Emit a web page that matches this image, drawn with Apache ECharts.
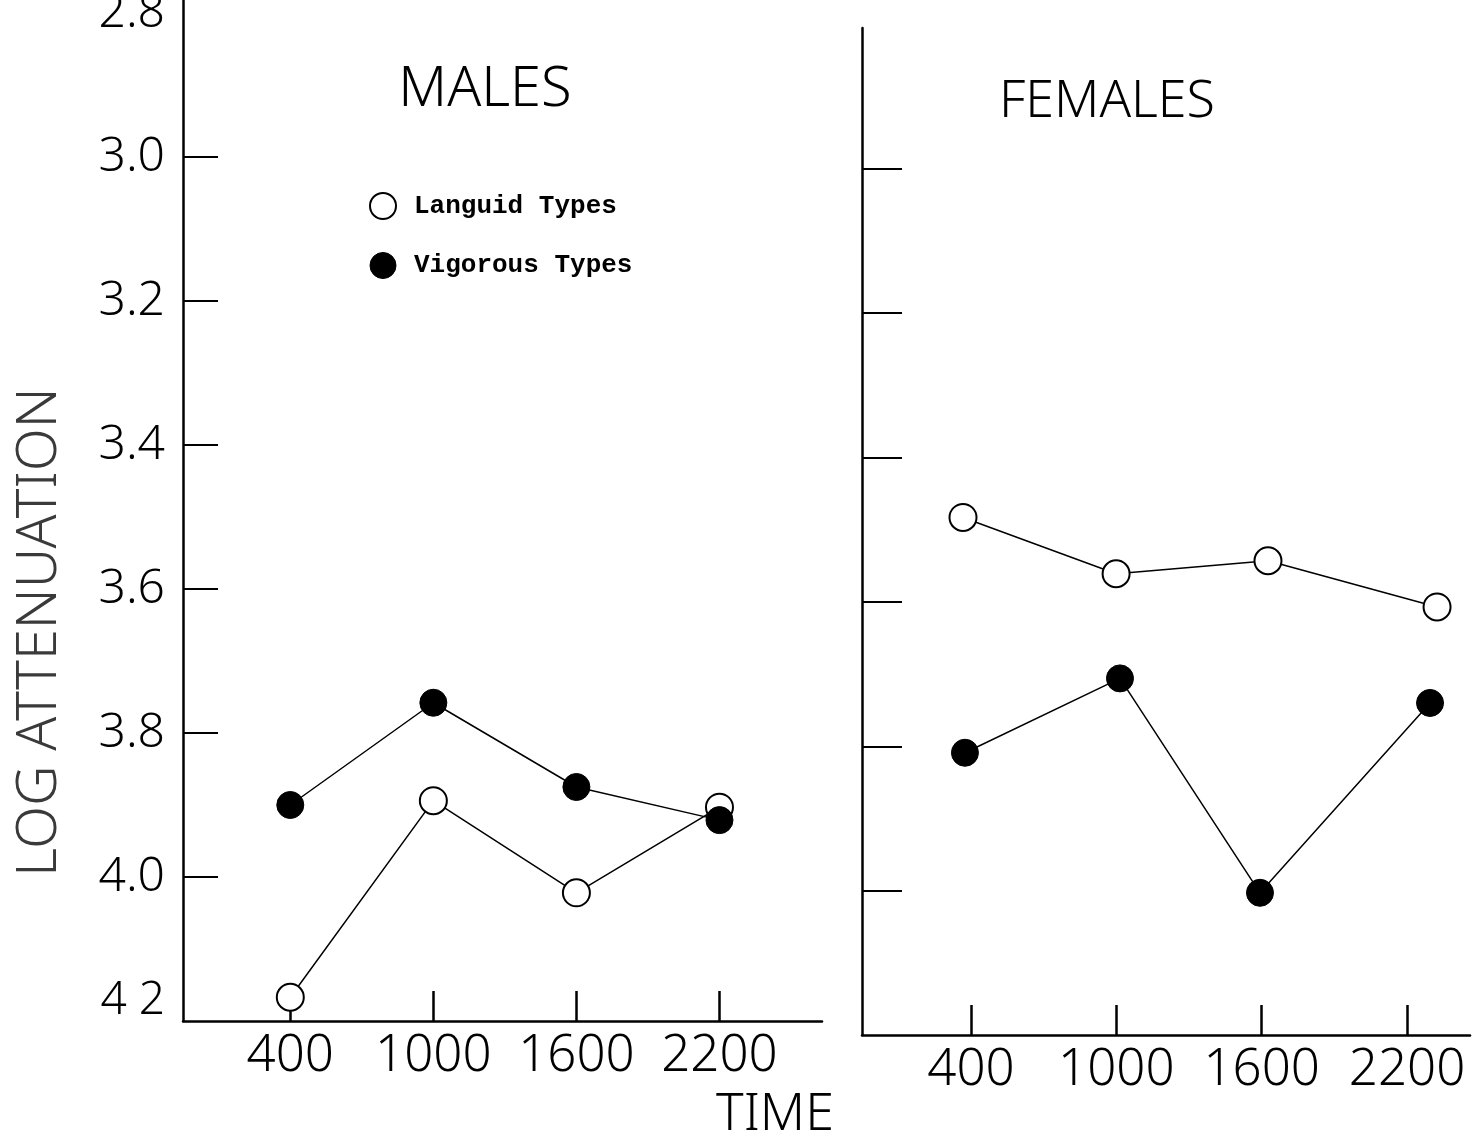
<!DOCTYPE html>
<html>
<head>
<meta charset="utf-8">
<script src="https://cdn.jsdelivr.net/npm/echarts@6/dist/echarts.min.js"></script>
<style>html,body{margin:0;padding:0;background:#fff}#c{width:1481px;height:1132px}</style>
</head>
<body>
<div id="c"></div>
<script>
// ---- data ----
const timeTicks = [400, 1000, 1600, 2200];
const yTickValues = [3.0, 3.2, 3.4, 3.6, 3.8, 4.0];
const yLabelValues = [2.8, 3.0, 3.2, 3.4, 3.6, 3.8, 4.0, 4.2];

const maleTime = [400, 1000, 1600, 2200];
const maleLanguid = [4.167, 3.894, 4.022, 3.903];
const maleVigorous = [3.900, 3.758, 3.875, 3.921];

const femaleLanguidTime = [367, 999, 1626, 2324];
const femaleLanguid = [3.483, 3.561, 3.543, 3.607];
const femaleVigorousTime = [375, 1015, 1593, 2295];
const femaleVigorous = [3.809, 3.706, 4.003, 3.740];

const pair = (xs, ys) => xs.map((x, i) => [x, ys[i]]);

const thin = 'Noto Sans';
const axisLine = { show: true, onZero: false, lineStyle: { color: '#000', width: 2.5 } };

const chart = echarts.init(document.getElementById('c'));
const openStyle = { color: '#fff', borderColor: '#000', borderWidth: 2 };
const fillStyle = { color: '#000', borderColor: '#000', borderWidth: 1 };
const xLabel = { customValues: timeTicks, margin: 10, fontFamily: thin, fontWeight: 300, fontSize: 51, color: '#000', formatter: v => String(v) };

chart.setOption({
  animation: false,
  backgroundColor: '#fff',
  title: [
    { text: 'MALES', left: 480, top: 85, textAlign: 'center', textVerticalAlign: 'middle',
      textStyle: { fontFamily: thin, fontWeight: 300, fontSize: 56, color: '#000' } },
    { text: 'FEMALES', left: 1102, top: 97, textAlign: 'center', textVerticalAlign: 'middle',
      textStyle: { fontFamily: thin, fontWeight: 300, fontSize: 52, color: '#000' } },
    { text: 'TIME', left: 770, top: 1110, textAlign: 'center', textVerticalAlign: 'middle',
      textStyle: { fontFamily: thin, fontWeight: 300, fontSize: 52, color: '#000' } }
  ],
  graphic: [
    { type: 'text', x: 40, y: 632, rotation: Math.PI / 2,
      style: { text: 'LOG ATTENUATION', align: 'center', verticalAlign: 'middle',
        font: '300 56px "Noto Sans"', fill: '#3a3a3a' } }
  ],
  legend: {
    orient: 'vertical', left: 364, top: 187, itemWidth: 26, itemHeight: 26, itemGap: 32,
    selectedMode: false,
    textStyle: { fontFamily: 'Liberation Mono', fontWeight: 'bold', fontSize: 26, color: '#000', padding: [0, 0, 0, 13] },
    data: [
      { name: 'Languid Types', icon: 'circle', itemStyle: openStyle },
      { name: 'Vigorous Types', icon: 'circle', itemStyle: fillStyle }
    ]
  },
  grid: [
    { left: 183, top: 0, width: 639, height: 1021, outerBoundsMode: 'none', containLabel: false },
    { left: 862, top: 28, width: 608, height: 1007, outerBoundsMode: 'none', containLabel: false }
  ],
  xAxis: [
    { gridIndex: 0, type: 'value', min: -50, max: 2630, splitLine: { show: false },
      axisLine: axisLine,
      axisTick: { show: true, inside: true, length: 30, customValues: timeTicks, lineStyle: { color: '#000', width: 2.5 } },
      axisLabel: xLabel },
    { gridIndex: 1, type: 'value', min: -50, max: 2460, splitLine: { show: false },
      axisLine: axisLine,
      axisTick: { show: true, inside: true, length: 30, customValues: timeTicks, lineStyle: { color: '#000', width: 2.5 } },
      axisLabel: xLabel }
  ],
  yAxis: [
    { gridIndex: 0, type: 'value', inverse: true, min: 2.782, max: 4.2, splitLine: { show: false },
      axisLine: axisLine,
      axisTick: { show: true, inside: true, length: 35, customValues: yTickValues, lineStyle: { color: '#000', width: 2 } },
      axisLabel: { customValues: yLabelValues, margin: 18, fontFamily: thin, fontWeight: 300, fontSize: 48, color: '#000',
        formatter: v => Math.abs(v - 4.2) < 1e-6 ? '{lo|4 2}' : v.toFixed(1),
        rich: { lo: { fontFamily: thin, fontWeight: 300, fontSize: 46, color: '#000', padding: [0, 0, 40, 0] } } } },
    { gridIndex: 1, type: 'value', inverse: true, min: 2.805, max: 4.2, splitLine: { show: false },
      axisLine: axisLine,
      axisTick: { show: true, inside: true, length: 40, customValues: yTickValues, lineStyle: { color: '#000', width: 2 } },
      axisLabel: { show: false } }
  ],
  series: [
    { name: 'Languid Types', type: 'line', xAxisIndex: 0, yAxisIndex: 0, data: pair(maleTime, maleLanguid),
      symbol: 'circle', symbolSize: 27, itemStyle: openStyle, lineStyle: { color: '#000', width: 1.5 }, z: 3 },
    { name: 'Vigorous Types', type: 'line', xAxisIndex: 0, yAxisIndex: 0, data: pair(maleTime, maleVigorous),
      symbol: 'circle', symbolSize: 27, itemStyle: fillStyle, lineStyle: { color: '#000', width: 1.5 }, z: 4 },
    { name: 'Languid Types', type: 'line', xAxisIndex: 1, yAxisIndex: 1, data: pair(femaleLanguidTime, femaleLanguid),
      symbol: 'circle', symbolSize: 27, itemStyle: openStyle, lineStyle: { color: '#000', width: 1.5 }, z: 3 },
    { name: 'Vigorous Types', type: 'line', xAxisIndex: 1, yAxisIndex: 1, data: pair(femaleVigorousTime, femaleVigorous),
      symbol: 'circle', symbolSize: 27, itemStyle: fillStyle, lineStyle: { color: '#000', width: 1.5 }, z: 4 }
  ]
});
</script>
</body>
</html>
